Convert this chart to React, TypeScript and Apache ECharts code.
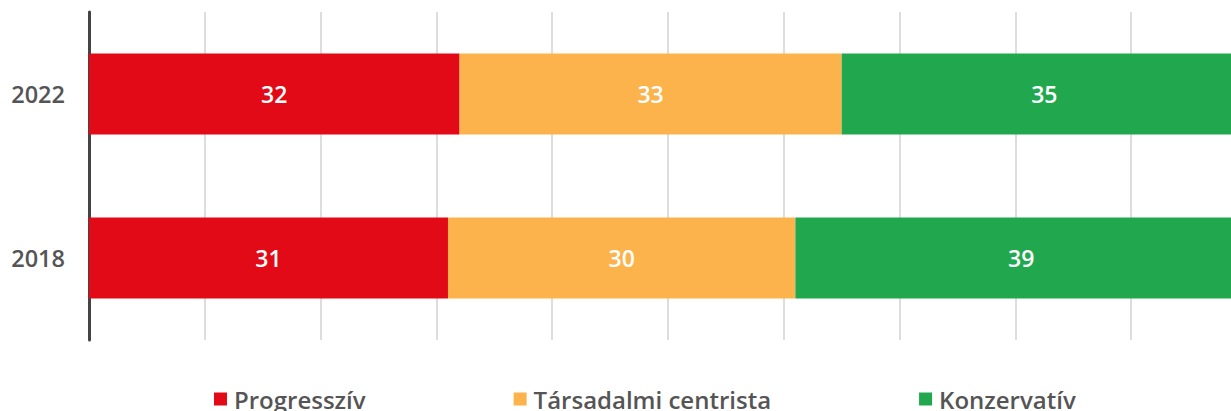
import React, { useEffect, useRef } from "react";
import * as echarts from "echarts";

const years = ["2018", "2022"];
const progressziv = [31, 32];
const tarsadalmi = [30, 33];
const konzervativ = [39, 35];
const seriesNames = ["Progresszív", "Társadalmi centrista", "Konzervatív"];
const colors = ["#E20A16", "#FDB34B", "#21A84F"];

const FONT = "'Open Sans', sans-serif";

export default function App() {
  const ref = useRef<HTMLDivElement>(null);
  useEffect(() => {
    if (!ref.current) return;
    const chart = echarts.init(ref.current, null, { renderer: "svg" });
    const values = [progressziv, tarsadalmi, konzervativ];
    chart.setOption({
      animation: false,
      color: colors,
      grid: { left: 89, top: 12, right: 3, height: 328, containLabel: false },
      legend: {
        left: 209,
        top: 382,
        itemGap: 148,
        itemWidth: 13,
        itemHeight: 13,
        icon: "rect",
        data: seriesNames,
        textStyle: { fontFamily: FONT, fontSize: 24, fontWeight: 600, color: "#555", padding: [0, 0, 0, 2] },
      },
      xAxis: {
        type: "value",
        min: 0,
        max: 100,
        interval: 10,
        axisLabel: { show: false },
        axisLine: { show: false },
        axisTick: { show: false },
        splitLine: { show: true, lineStyle: { color: "#DDDDDD", width: 2 } },
      },
      yAxis: {
        type: "category",
        data: years,
        axisTick: { show: false },
        axisLine: { show: true, lineStyle: { color: "#444444", width: 3 } },
        axisLabel: { fontFamily: FONT, fontSize: 23.5, fontWeight: 600, color: "#555", margin: 24 },
      },
      series: seriesNames.map((name, i) => ({
        name,
        type: "bar",
        stack: "total",
        barWidth: 81,
        data: values[i],
        itemStyle: { color: colors[i] },
        label: {
          show: true,
          position: "inside",
          color: "#fff",
          fontFamily: FONT,
          fontSize: 23,
          fontWeight: 600,
        },
      })),
    });
    return () => chart.dispose();
  }, []);
  return (
    <div style={{ position: "absolute", left: 0, top: 0, width: 1231, height: 411, overflow: "hidden" }}>
      <div ref={ref} style={{ width: 1250, height: 411 }} />
    </div>
  );
}
